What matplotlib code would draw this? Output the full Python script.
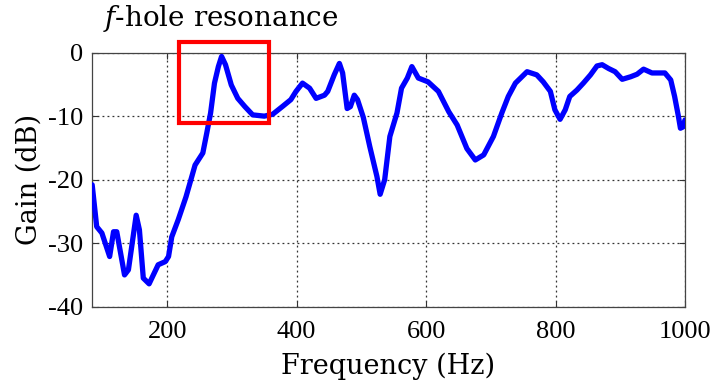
import numpy as np
import matplotlib.pyplot as plt
from matplotlib.patches import Rectangle

plt.rcParams['axes.unicode_minus'] = False
plt.rcParams['font.family'] = ['Liberation Serif', 'DejaVu Serif']

# frequency response
freq = [84, 91, 99, 111, 117, 122, 134, 140, 152, 157, 163, 172, 186, 197, 202,
        207, 217, 229, 238, 243, 255, 261, 267, 273, 279, 284, 290, 299, 309, 320,
        332, 350, 363, 379, 391, 399, 409, 420, 430, 443, 448, 458, 466, 471, 478,
        483, 489, 494, 503, 513, 524, 529, 536, 544, 555, 562, 571, 578, 588, 603,
        619, 635, 648, 663, 676, 689, 704, 717, 727, 738, 756, 771, 781, 792, 799,
        807, 815, 822, 833, 843, 854, 864, 872, 882, 892, 903, 916, 926, 936, 949,
        969, 978, 984, 990, 993, 997, 1000]
gain = [-20.8, -27.4, -28.4, -32.1, -28.2, -28.2, -35.0, -34.2, -25.6, -27.9,
        -35.5, -36.4, -33.4, -32.9, -32.1, -29.0, -26.3, -22.7, -19.5, -17.7,
        -15.8, -12.7, -9.5, -4.8, -2.2, -0.6, -1.9, -5.1, -7.2, -8.5,
        -9.8, -10.0, -9.7, -8.4, -7.4, -6.1, -4.8, -5.6, -7.2, -6.7,
        -6.1, -3.5, -1.7, -3.2, -8.8, -8.5, -6.7, -7.4, -10.2, -14.8,
        -19.5, -22.3, -20.0, -13.2, -9.5, -5.6, -4.0, -2.2, -4.0, -4.6,
        -6.1, -9.3, -11.4, -15.1, -16.9, -16.1, -13.2, -9.5, -6.9, -4.8,
        -3.0, -3.5, -4.6, -6.1, -9.0, -10.5, -9.0, -6.9, -5.9, -4.8,
        -3.5, -2.1, -1.9, -2.5, -3.0, -4.2, -3.8, -3.4, -2.6, -3.2,
        -3.2, -4.3, -6.9, -10.1, -11.9, -11.7, -10.6]

box_x = (218, 358)
box_y = (-11, 1.7)

serif = ['DejaVu Serif']

fig = plt.figure(figsize=(7.15, 3.87), dpi=100)
ax = fig.add_axes([0.128, 0.2075, 0.83, 0.6565])

ax.plot(freq, gain, color='#0000ff', lw=3.8, solid_capstyle='round', solid_joinstyle='round', zorder=3)

rect = Rectangle((box_x[0], box_y[0]), box_x[1] - box_x[0], box_y[1] - box_y[0],
                 fill=False, edgecolor='#ff0000', lw=3, clip_on=False, zorder=4)
ax.add_patch(rect)

ax.set_xlim(83, 1000)
ax.set_ylim(-40, 0)
ax.set_xticks([200, 400, 600, 800, 1000])
ax.set_yticks([-40, -30, -20, -10, 0])
ax.grid(True, color='#333333', ls=(0, (1.5, 2.5)), lw=0.9)
ax.tick_params(direction='in', top=True, right=True, length=4, width=0.8, color='#333333',
               labelsize=19)
ax.tick_params(axis='x', pad=10)
ax.tick_params(axis='y', pad=6)
for s in ax.spines.values():
    s.set_color('#444444')
    s.set_linewidth(0.9)

ax.set_xlabel('Frequency (Hz)', family=serif, fontsize=19.5, labelpad=7)
ax.set_ylabel('Gain (dB)', family=serif, fontsize=19.5, labelpad=4)

fig.text(0.309, 0.953, r'$f$-hole resonance', family=serif, fontsize=20,
         ha='center', va='center', math_fontfamily='dejavuserif')

fig.savefig('out.png', dpi=100)
